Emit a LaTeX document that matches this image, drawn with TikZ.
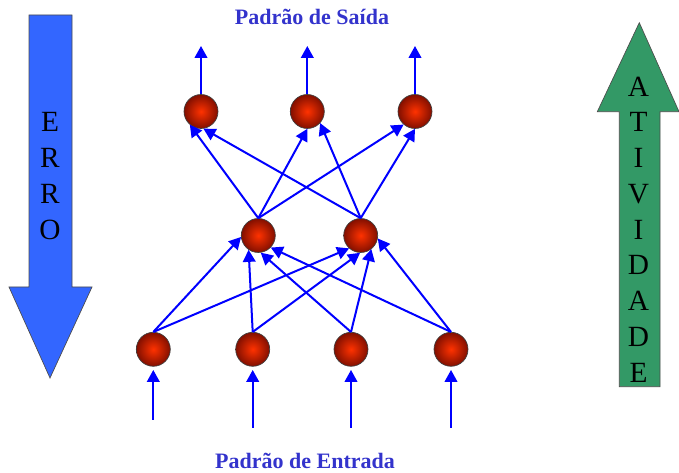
\documentclass[tikz,border=0pt]{standalone}
\usepackage{fontspec}
\setmainfont{Liberation Serif}
\usetikzlibrary{arrows.meta}
\definecolor{conncol}{RGB}{0,0,255}
\definecolor{titlecol}{RGB}{51,51,204}
\definecolor{errocol}{RGB}{51,102,255}
\definecolor{ativcol}{RGB}{51,153,102}
\definecolor{ballin}{RGB}{255,50,0}
\definecolor{ballout}{RGB}{130,15,0}
\begin{document}
\begin{tikzpicture}[x=0.75pt,y=-0.75pt,
  neuron/.style={circle,draw=black!75,line width=0.5pt,inner sep=0pt,minimum size=25.5pt,
    inner color=ballin,outer color=ballout},
  conn/.style={draw=conncol,line width=1.5pt,-{Triangle[length=9pt,width=9.5pt]}},
  title/.style={text=titlecol,font=\fontsize{16.5}{20}\selectfont\bfseries},
  bigletters/.style={align=center,font=\fontsize{22}{26.8}\selectfont,inner sep=0pt},
  bigarrow/.style={draw=black!70,line width=0.5pt}]
\useasboundingbox (0,0) rectangle (679,473);

% big arrows
\fill[errocol,bigarrow] (29,15) -- (72,15) -- (72,287) -- (92,287) -- (50,378) -- (9,287) -- (29,287) -- cycle;
\node[bigletters] (erro) at (50,176) {E\\R\\R\\O};
\fill[ativcol,bigarrow] (639.3,22.7) -- (679,111.7) -- (660,111.7) -- (660,386.7) -- (619.3,386.7) -- (619.3,111.7) -- (597.3,111.7) -- cycle;
\node[bigletters] (ativ) at (638.5,229.5) {A\\T\\I\\V\\I\\D\\A\\D\\E};

% titles
\node[title] (tsaida) at (312,17) {Padrão de Saída};
\node[title] (tentrada) at (305,461) {Padrão de Entrada};

% neurons
\node[neuron] (o1) at (201,111.5) {};
\node[neuron] (o2) at (307.3,111.5) {};
\node[neuron] (o3) at (415,111.5) {};
\node[neuron] (h1) at (258.3,235.5) {};
\node[neuron] (h2) at (360.7,235.5) {};
\node[neuron] (i1) at (153.3,349.3) {};
\node[neuron] (i2) at (252.7,349.3) {};
\node[neuron] (i3) at (351,349.3) {};
\node[neuron] (i4) at (451,349.3) {};

% output arrows
\coordinate (t1) at (201,46);
\coordinate (t2) at (307.3,46);
\coordinate (t3) at (415,46);
\draw[conn] (o1.north) -- (t1);
\draw[conn] (o2.north) -- (t2);
\draw[conn] (o3.north) -- (t3);

% input arrows
\coordinate (b1) at (153.3,420);
\coordinate (b2) at (252.7,428);
\coordinate (b3) at (351,428);
\coordinate (b4) at (451,428);
\draw[conn,shorten >=2.5pt] (b1) -- (i1.south);
\draw[conn,shorten >=2.5pt] (b2) -- (i2.south);
\draw[conn,shorten >=2.5pt] (b3) -- (i3.south);
\draw[conn,shorten >=2.5pt] (b4) -- (i4.south);

% input -> hidden
\draw[conn] (i1.north) -- (h1.185);
\draw[conn] (i2.north) -- (h1.236);
\draw[conn] (i3.north) -- (h1.278);
\draw[conn] (i4.north) -- (h1.316);
\draw[conn] (i1.north) -- (h2.228);
\draw[conn] (i2.north) -- (h2.268);
\draw[conn] (i3.north) -- (h2.308);
\draw[conn] (i4.north) -- (h2.350);

% hidden -> output
\draw[conn] (h1.north) -- (o1.230);
\draw[conn] (h2.north) -- (o1.278);
\draw[conn] (h1.north) -- (o2.270);
\draw[conn] (h2.north) -- (o2.318);
\draw[conn] (h1.north) -- (o3.229);
\draw[conn] (h2.north) -- (o3.270);
\end{tikzpicture}
\end{document}
